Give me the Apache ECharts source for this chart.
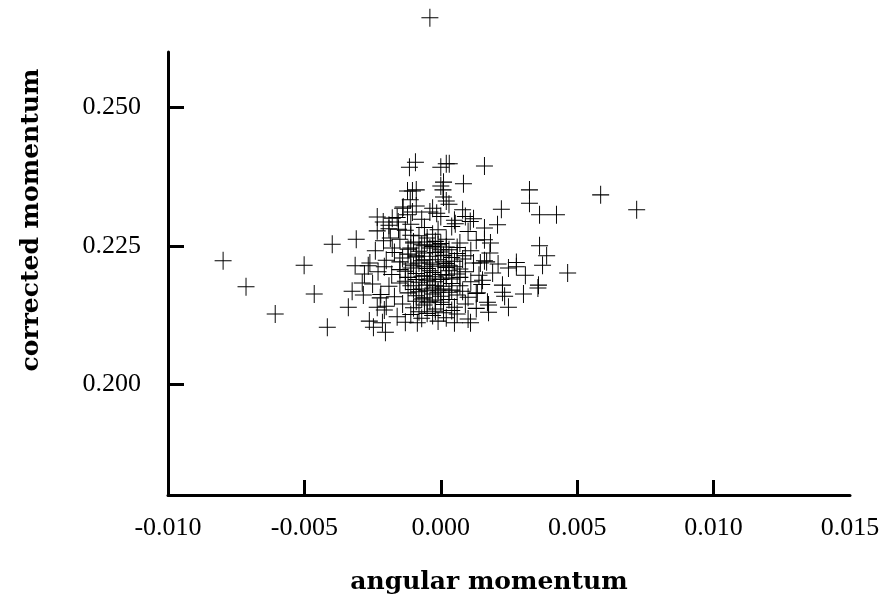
<!DOCTYPE html>
<html>
<head>
<meta charset="utf-8">
<script src="https://cdn.jsdelivr.net/npm/echarts@6/dist/echarts.min.js"></script>
<style>html,body{margin:0;padding:0;background:#fff}#c{width:886px;height:603px}</style>
</head>
<body>
<div id="c"></div>
<script>
// Tick labels
const xTicks = [-0.010, -0.005, 0.000, 0.005, 0.010, 0.015];
const yTicks = [0.200, 0.225, 0.250];
const xTitle = 'angular momentum';
const yTitle = 'corrected momentum';

// Outlying / edge points [angular momentum, corrected momentum]
const leftPoints = [
  [-0.00798,0.2223],[-0.00714,0.2176],[-0.00607,0.2127],[-0.00501,0.2215],[-0.00464,0.2163],
  [-0.00416,0.2103],[-0.00398,0.2253],[-0.00310,0.2262],[-0.00314,0.2214],[-0.00266,0.2214],
  [-0.00288,0.2183],[-0.00325,0.2168],[-0.00284,0.2161],[-0.00339,0.2139],[-0.00233,0.2302],
  [-0.00233,0.2277],[-0.00211,0.2293],[-0.00262,0.2114],[-0.00247,0.2103],[-0.00214,0.2111],
  [-0.00203,0.2094],[-0.00207,0.2212],[-0.00233,0.2139],[-0.00185,0.2264],[-0.00178,0.2246],
  [-0.00222,0.2156],[-0.00207,0.2134]
];
const rightPoints = [
  [0.00325,0.2351],[0.00325,0.2327],[0.00222,0.2316],[0.00208,0.2288],[0.00362,0.2306],
  [0.00424,0.2306],[0.00586,0.2342],[0.00718,0.2315],[0.00362,0.2250],[0.00388,0.2232],
  [0.00373,0.2215],[0.00465,0.2201],[0.00358,0.2179],[0.00356,0.2174],[0.00303,0.2163],
  [0.00248,0.2139],[0.00277,0.2220],[0.00277,0.2212],[0.00248,0.2210],[0.00310,0.2197],
  [0.00226,0.2179],[0.00234,0.2159],[0.00226,0.2166],[0.00175,0.2143],[0.00175,0.2130],
  [0.00171,0.2148],[0.00160,0.2261],[0.00182,0.2255],[0.00145,0.2219],[0.00168,0.2221],
  [0.00153,0.2188],[0.00134,0.2165],[0.00109,0.2111],[0.00050,0.2111],[-0.00086,0.2111]
];
const topPoints = [
  [0.00160,0.2394],[0.00083,0.2362],[0.00020,0.2398],[0.00031,0.2398],[0.00000,0.2392],
  [0.00010,0.2365],[0.00000,0.2358],[-0.00093,0.2401],[-0.00115,0.2392],[-0.00090,0.2351],
  [-0.00122,0.2349],[-0.00112,0.2333],[-0.00138,0.2320],[-0.00104,0.2311],[-0.00122,0.2306],
  [-0.00178,0.2300],[-0.00156,0.2293],[-0.00110,0.2269],[-0.00040,0.2311],[-0.00015,0.2309],
  [0.00010,0.2338],[0.00008,0.2351],[-0.00104,0.2349],[0.00020,0.2331],[0.00090,0.2303],
  [0.00108,0.2294],[0.00053,0.2290],[-0.00190,0.2287],[-0.00155,0.2280],[-0.00040,0.2662]
];
// Dense core
const corePoints = [
  [-0.0009,0.2322],[-0.0003,0.2318],[0.0003,0.2325],[0.0008,0.2315],[-0.0014,0.2318],
  [-0.0016,0.2301],[-0.0007,0.2298],[0.0000,0.2303],[0.0005,0.2296],[0.0012,0.2299],[-0.0011,0.2289],
  [-0.0019,0.2281],[-0.0013,0.2278],[-0.0006,0.2283],[-0.0001,0.2279],[0.0004,0.2285],[0.0010,0.2276],[0.0016,0.2282],
  [-0.0021,0.2259],[-0.0015,0.2262],[-0.0010,0.2257],[-0.0005,0.2264],[-0.0002,0.2258],[0.0002,0.2262],
  [0.0007,0.2255],[0.0013,0.2260],[-0.0008,0.2268],[-0.0003,0.2271],
  [-0.0024,0.2241],[-0.0017,0.2238],[-0.0012,0.2244],[-0.0008,0.2240],[-0.0004,0.2246],[0.0000,0.2239],
  [0.0003,0.2243],[0.0006,0.2236],[0.0011,0.2241],[0.0018,0.2237],[-0.0006,0.2250],[-0.0001,0.2252],
  [-0.0026,0.2219],[-0.0020,0.2224],[-0.0015,0.2221],[-0.0011,0.2217],[-0.0007,0.2223],[-0.0004,0.2219],
  [-0.0001,0.2225],[0.0002,0.2218],[0.0005,0.2222],[0.0008,0.2226],[0.0012,0.2219],[0.0016,0.2223],
  [0.0021,0.2217],[-0.0009,0.2230],[0.0001,0.2232],
  [-0.0028,0.2199],[-0.0023,0.2203],[-0.0018,0.2198],[-0.0013,0.2204],[-0.0009,0.2200],[-0.0006,0.2196],
  [-0.0003,0.2202],[0.0000,0.2198],[0.0003,0.2205],[0.0006,0.2199],[0.0009,0.2203],[0.0014,0.2197],
  [0.0019,0.2201],[-0.0005,0.2209],[0.0002,0.2211],[-0.0011,0.2210],
  [-0.0025,0.2181],[-0.0019,0.2177],[-0.0015,0.2183],[-0.0011,0.2178],[-0.0008,0.2184],[-0.0005,0.2179],
  [-0.0002,0.2185],[0.0001,0.2177],[0.0004,0.2182],[0.0007,0.2178],[0.0011,0.2185],[0.0015,0.2180],
  [-0.0004,0.2190],[0.0002,0.2192],[-0.0007,0.2172],
  [-0.0022,0.2162],[-0.0017,0.2158],[-0.0012,0.2165],[-0.0009,0.2160],[-0.0006,0.2156],[-0.0003,0.2163],
  [0.0000,0.2159],[0.0003,0.2166],[0.0006,0.2161],[0.0010,0.2157],[0.0013,0.2164],[-0.0001,0.2170],
  [-0.0020,0.2141],[-0.0014,0.2145],[-0.0010,0.2138],[-0.0006,0.2143],[-0.0002,0.2136],[0.0001,0.2144],
  [0.0005,0.2139],[0.0009,0.2145],[0.0013,0.2137],[-0.0004,0.2150],
  [-0.0016,0.2122],[-0.0011,0.2126],[-0.0007,0.2119],[-0.0003,0.2124],[0.0002,0.2120],[0.0006,0.2127],
  [0.0010,0.2118],[-0.0013,0.2112],[-0.0001,0.2114]
];
// Densest centre of the cloud
const centrePoints = [
  [-0.0010,0.2255],[-0.0007,0.2252],[-0.0005,0.2257],[-0.0003,0.2249],[0.0000,0.2254],[0.0002,0.2248],
  [-0.0012,0.2235],[-0.0009,0.2232],[-0.0006,0.2237],[-0.0004,0.2231],[-0.0002,0.2238],[0.0001,0.2233],
  [0.0004,0.2229],[-0.0010,0.2214],[-0.0008,0.2219],[-0.0006,0.2212],[-0.0003,0.2216],[-0.0001,0.2213],
  [0.0001,0.2221],[0.0003,0.2215],[0.0005,0.2212],[-0.0012,0.2193],[-0.0009,0.2189],[-0.0007,0.2195],
  [-0.0005,0.2188],[-0.0002,0.2194],[0.0000,0.2189],[0.0002,0.2197],[0.0004,0.2190],[0.0007,0.2193],
  [-0.0010,0.2171],[-0.0008,0.2167],[-0.0005,0.2169],[-0.0003,0.2174],[-0.0001,0.2166],[0.0001,0.2172],
  [0.0004,0.2170],[0.0008,0.2168],[-0.0009,0.2150],[-0.0007,0.2154],[-0.0005,0.2147],[-0.0002,0.2152],
  [0.0000,0.2148],[0.0003,0.2153],[-0.0008,0.2131],[-0.0005,0.2128],[-0.0002,0.2132],[0.0001,0.2129],
  [0.0004,0.2133],[-0.0014,0.2228],[-0.0013,0.2186],[-0.0015,0.2207],[0.0007,0.2208],[0.0009,0.2232],
  [-0.0004,0.2205],[-0.0002,0.2178],[-0.0006,0.2225],[0.0000,0.2243],[-0.0011,0.2246],[0.0006,0.2247]
];

const allPoints = leftPoints.concat(rightPoints, topPoints, corePoints, centrePoints);

const chart = echarts.init(document.getElementById('c'), null, {renderer: 'canvas'});
const font = '"Liberation Serif", "DejaVu Serif", serif';
const titleFont = 'bold 25px "DejaVu Serif", "Liberation Serif", serif';
chart.setOption({
  animation: false,
  backgroundColor: '#fff',
  grid: {left: 168, right: 36, top: 52, bottom: 108},
  xAxis: {
    type: 'value', min: -0.010, max: 0.015,
    axisLine: {show: true, onZero: false, lineStyle: {color: '#000', width: 3}},
    axisTick: {show: true, inside: true, length: 15, lineStyle: {color: '#000', width: 3},
               customValues: [-0.005, 0.000, 0.005, 0.010]},
    axisLabel: {customValues: xTicks, margin: 20, color: '#000', fontFamily: font, fontSize: 26,
                formatter: v => v.toFixed(3)},
    splitLine: {show: false}
  },
  yAxis: {
    type: 'value', min: 0.18, max: 0.26,
    axisLine: {show: true, onZero: false, lineStyle: {color: '#000', width: 3}},
    axisTick: {show: true, inside: true, length: 16, lineStyle: {color: '#000', width: 3},
               customValues: yTicks},
    axisLabel: {customValues: yTicks, margin: 27, color: '#000', fontFamily: font, fontSize: 26,
                formatter: v => v.toFixed(3)},
    splitLine: {show: false}
  },
  graphic: [
    {type: 'text', x: 489, y: 582,
     style: {text: xTitle, font: titleFont, fill: '#000', align: 'center', verticalAlign: 'middle'}},
    {type: 'text', x: 31, y: 220, rotation: Math.PI / 2,
     style: {text: yTitle, font: titleFont, fill: '#000', align: 'center', verticalAlign: 'middle'}}
  ],
  series: [{
    type: 'scatter',
    clip: false,
    data: allPoints,
    symbol: 'path://M0,9H17M8.5,0V18',
    symbolSize: [17, 18],
    itemStyle: {color: 'none', borderColor: '#000', borderWidth: 1, opacity: 1},
    emphasis: {disabled: true}
  }]
});
</script>
</body>
</html>
